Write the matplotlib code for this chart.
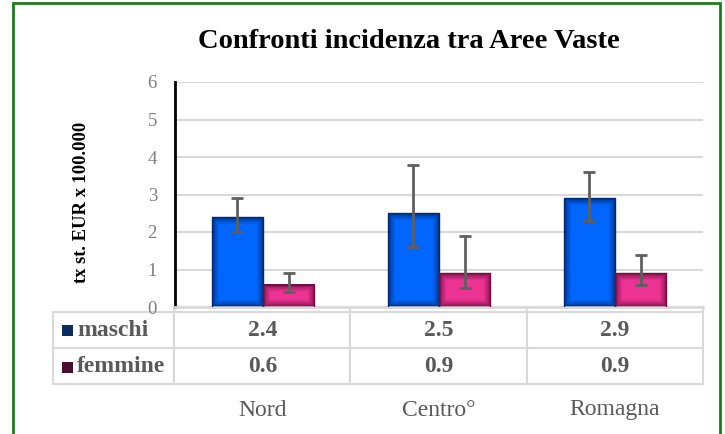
import numpy as np
import matplotlib.pyplot as plt
from matplotlib.patches import Rectangle
from matplotlib.transforms import blended_transform_factory

plt.rcParams['font.family'] = ['Liberation Serif', 'DejaVu Serif']

# data
areas = ["Nord", "Centro°", "Romagna"]
series = ["maschi", "femmine"]
maschi = [2.4, 2.5, 2.9]
femmine = [0.6, 0.9, 0.9]
maschi_low = [2.0, 1.6, 2.3]
maschi_high = [2.9, 3.8, 3.6]
femmine_low = [0.4, 0.5, 0.6]
femmine_high = [0.9, 1.9, 1.4]

W, H = 725, 434
fig = plt.figure(figsize=(W / 100, H / 100), dpi=100)
ax = fig.add_axes([175 / W, 1 - 307 / H, 528 / W, 225 / H])

x = np.arange(len(areas))
bw = 0.29

# colours: (centre, edge) for the shaded bars, plus legend key colour
styles = {
    "maschi": dict(center=(0.0, 0.40, 1.0), edge=(0.0, 0.17, 0.45), key="#0B2A5E"),
    "femmine": dict(center=(0.93, 0.20, 0.58), edge=(0.45, 0.06, 0.26), key="#4A0E2E"),
}

def shaded_bars(xpos, vals, st):
    bars = ax.bar(xpos, vals, bw, facecolor='none', edgecolor=st["edge"], lw=1, zorder=3)
    for p in bars:
        x0, y0 = p.get_x(), p.get_y()
        w, h = p.get_width(), p.get_height()
        wpx = max(int(w * 528 / 3), 2)
        hpx = max(int(h * 225 / 6), 2)
        xx = np.arange(wpx)[None, :]
        yy = np.arange(hpx)[:, None]
        d = np.minimum(np.minimum(xx, wpx - 1 - xx), np.minimum(yy, hpx - 1 - yy))
        f = np.clip(d / 7.0, 0, 1) ** 0.7
        c = np.array(st["edge"])[None, None, :] + (np.array(st["center"]) - np.array(st["edge"]))[None, None, :] * f[:, :, None]
        ax.imshow(c, extent=[x0, x0 + w, y0, y0 + h], aspect='auto', interpolation='bilinear', zorder=2)
    return bars

shaded_bars(x - bw / 2, maschi, styles["maschi"])
shaded_bars(x + bw / 2, femmine, styles["femmine"])

for xpos, vals, lo, hi in [(x - bw / 2, maschi, maschi_low, maschi_high),
                           (x + bw / 2, femmine, femmine_low, femmine_high)]:
    vals = np.array(vals)
    yerr = [vals - np.array(lo), np.array(hi) - vals]
    ax.errorbar(xpos, vals, yerr=yerr, fmt='none', ecolor='#5F5F5F',
                elinewidth=2, capsize=4.5, capthick=2, zorder=4)

ax.set_xlim(-0.5, len(areas) - 0.5)
ax.set_ylim(0, 6)
ax.set_yticks(range(0, 7))
ax.set_xticks([])
ax.yaxis.grid(True, color='#D9D9D9', lw=1.5)
ax.set_axisbelow(True)
ax.tick_params(axis='y', length=0, pad=13, labelsize=13.5, labelcolor='#7F7F7F')
for s in ['top', 'right']:
    ax.spines[s].set_visible(False)
ax.spines['left'].set_color('black')
ax.spines['left'].set_linewidth(2)
ax.spines['bottom'].set_color('#D9D9D9')
ax.spines['bottom'].set_linewidth(2)

# data table under the axis
cell_text = [[""] * (len(areas) + 1),
             [""] + [f"{v:.1f}" for v in maschi],
             [""] + [f"{v:.1f}" for v in femmine]]
tbl = ax.table(cellText=cell_text, cellLoc='center',
               colWidths=[121] + [176] * len(areas),
               bbox=[(53 - 175) / 528, (307 - 384) / 225, 650 / 528, 77 / 225])
tbl.auto_set_font_size(False)
tbl.set_fontsize(17)
for (r, c), cell in tbl.get_celld().items():
    cell.set_edgecolor('#D9D9D9')
    cell.set_linewidth(1.5)
    cell.set_height(5 if r == 0 else 36)
    cell.get_text().set_fontweight('bold')
    cell.get_text().set_color('#595959')
    if r == 0 and c == 0:
        cell.visible_edges = 'B'

row_y = [1 - 330 / H, 1 - 367 / H]
for name, yy in zip(series, row_y):
    fig.patches.append(Rectangle((62 / W, yy - 5.5 / H), 11 / W, 11 / H, transform=fig.transFigure,
                                 facecolor=styles[name]["key"], edgecolor='none'))
    fig.text(77 / W, yy, name, fontsize=17, fontweight='bold', color='#595959', va='center', ha='left')

# category names below the table
trans = blended_transform_factory(ax.transData, fig.transFigure)
for xi, name in zip(x, areas):
    ax.text(xi, 1 - 410 / H, name, transform=trans, ha='center', va='center',
            fontsize=17, color='#595959')

fig.text(409 / W, 1 - 42 / H, "Confronti incidenza tra Aree Vaste", ha='center', va='center',
         fontsize=20.5, fontweight='bold')
fig.text(81 / W, 1 - 202 / H, "tx st. EUR x 100.000", rotation=90, ha='center', va='center',
         fontsize=13.3, fontweight='bold')

# green frame
fig.patches.append(Rectangle((13 / W, -0.1), (720 - 13) / W, 1 - 3 / H + 0.1, transform=fig.transFigure,
                             fill=False, edgecolor='#1F7A1F', lw=2))

fig.savefig("out.png", dpi=100)
